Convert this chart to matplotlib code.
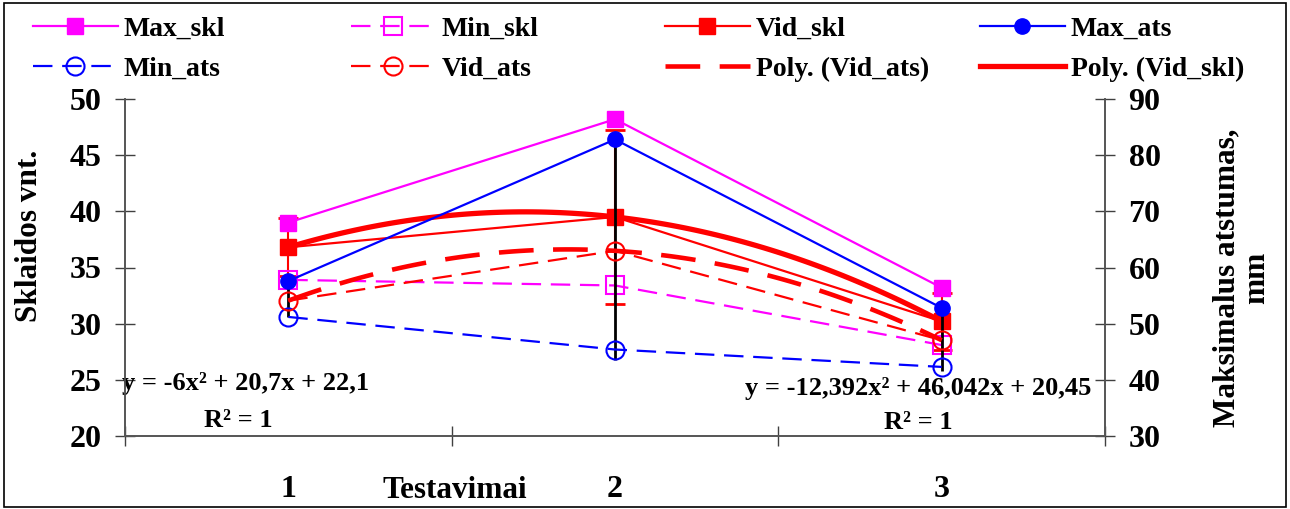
import numpy as np
import matplotlib
matplotlib.use("Agg")
import matplotlib.pyplot as plt
from matplotlib.patches import Rectangle

plt.rcParams['font.family'] = ['Liberation Serif', 'DejaVu Serif']
plt.rcParams['font.weight'] = 'bold'
plt.rcParams['lines.scale_dashes'] = False

# duomenys
testai = ['1', '2', '3']
max_skl = [39.0, 48.2, 33.2]
min_skl = [33.9, 33.4, 28.1]
vid_skl = [36.8, 39.5, 30.2]
max_ats = [57.6, 82.8, 52.8]
min_ats = [51.2, 45.4, 42.3]
vid_ats = [54.1, 62.97, 47.05]
skl_err = [2.6, 7.75, 2.5]
ats_err = [3.0, 19.5, 5.5]

x = np.arange(len(testai)) + 0.5
W, H = 1290, 509

fig = plt.figure(figsize=(12.9, 5.09), dpi=100)
ax = fig.add_axes([125 / W, 1 - 436 / H, 980 / W, 337 / H])
ax2 = ax.twinx()

mag, red, blue = '#FF00FF', '#FF0000', '#0000FF'
dash = (14, 7)

# pagrindine asis (skl)
ax.errorbar(x, vid_skl, yerr=skl_err, fmt='none', ecolor=red, elinewidth=1.5,
            capsize=7, capthick=2, zorder=1)
l1, = ax.plot(x, max_skl, color=mag, lw=1.6, marker='s', ms=11, label='Max_skl')
l2, = ax.plot(x, min_skl, color=mag, lw=1.6, dashes=dash, marker='s', ms=13,
              mfc='none', mew=1.5, label='Min_skl')
l3, = ax.plot(x, vid_skl, color=red, lw=1.6, marker='s', ms=11, label='Vid_skl')

# trendline (Excel: x = 1, 2, 3)
k = np.arange(1, len(testai) + 1)
xs = np.linspace(1, 3, 100)
p_skl = np.polyfit(k, vid_skl, 2)
l8, = ax.plot(xs - 0.5, np.polyval(p_skl, xs), color=red, lw=3.8,
              label='Poly. (Vid_skl)')

# antrine asis (ats)
ax2.errorbar(x, vid_ats, yerr=ats_err, fmt='none', ecolor='black',
             elinewidth=2, capsize=0, zorder=1)
l4, = ax2.plot(x, max_ats, color=blue, lw=1.6, marker='o', ms=11, label='Max_ats')
l5, = ax2.plot(x, min_ats, color=blue, lw=1.6, dashes=dash, marker='o', ms=13,
               mfc='none', mew=1.5, label='Min_ats')
l6, = ax2.plot(x, vid_ats, color=red, lw=1.6, dashes=dash, marker='o', ms=13,
               mfc='none', mew=1.5, label='Vid_ats')
p_ats = np.polyfit(k, vid_ats, 2)
l7, = ax2.plot(xs - 0.5, np.polyval(p_ats, xs), color=red, lw=3.3,
               dashes=(25, 14), label='Poly. (Vid_ats)')

# asys
ax.set_xlim(0, 3)
ax.set_ylim(20, 50)
ax2.set_ylim(30, 90)
ax.set_yticks(np.arange(20, 51, 5))
ax2.set_yticks(np.arange(30, 91, 10))
ax.set_xticks([0, 1, 2, 3])
ax.set_xticklabels([])
ax.set_xticks(x, minor=True)
ax.set_xticklabels(testai, minor=True)
ax.tick_params(axis='x', which='minor', length=0, pad=28, labelsize=23)
ax.tick_params(axis='x', which='major', direction='inout', length=14, width=1,
               color='#404040')
ax.tick_params(axis='y', direction='inout', length=14, width=1, color='#404040',
               pad=10, labelsize=23)
ax2.tick_params(axis='y', direction='inout', length=14, width=1, color='#404040',
                pad=10, labelsize=23)

for a in (ax, ax2):
    a.spines['top'].set_visible(False)
    for s in ('left', 'right', 'bottom'):
        a.spines[s].set_color('#555555')
        a.spines[s].set_linewidth(1.2)

# asiu pavadinimai
fig.text(30 / W, 1 - 236 / H, 'Sklaidos vnt.', fontsize=22.5, rotation=90,
         ha='center', va='center')
fig.text(1242 / W, 1 - 278 / H, 'Maksimalus atstumas,\nmm', fontsize=22.5,
         rotation=90, ha='center', va='center', multialignment='center',
         linespacing=1.05)
fig.text(455 / W, 1 - 490 / H, 'Testavimai', fontsize=22.5, ha='center', va='center')

# lygtys
ax.text(0.1235, 0.157, 'y = -6x² + 20,7x + 22,1', transform=ax.transAxes,
        fontsize=19, ha='center', va='center')
ax.text(0.116, 0.047, 'R² = 1', transform=ax.transAxes,
        fontsize=19, ha='center', va='center')
ax.text(0.809, 0.142, 'y = -12,392x² + 46,042x + 20,45', transform=ax.transAxes,
        fontsize=19, ha='center', va='center')
ax.text(0.809, 0.039, 'R² = 1', transform=ax.transAxes,
        fontsize=19, ha='center', va='center')

# legenda - 4 stulpeliai
cols = [[l1, l5], [l2, l6], [l3, l7], [l4, l8]]
xpos = [33, 351, 665, 980]
for hs, xp in zip(cols, xpos):
    fig.legend(handles=hs, loc='upper left', bbox_to_anchor=(xp / W, 1 - 16 / H),
               frameon=False, fontsize=20, handlelength=3.05, handletextpad=0.22,
               borderpad=0, borderaxespad=0, labelspacing=0.55, numpoints=1)

fig.patches.append(Rectangle((4 / W, 2 / H), 1282 / W, 504 / H, transform=fig.transFigure,
                             fill=False, edgecolor='black', lw=1.2))

fig.savefig('out.png', dpi=100)
